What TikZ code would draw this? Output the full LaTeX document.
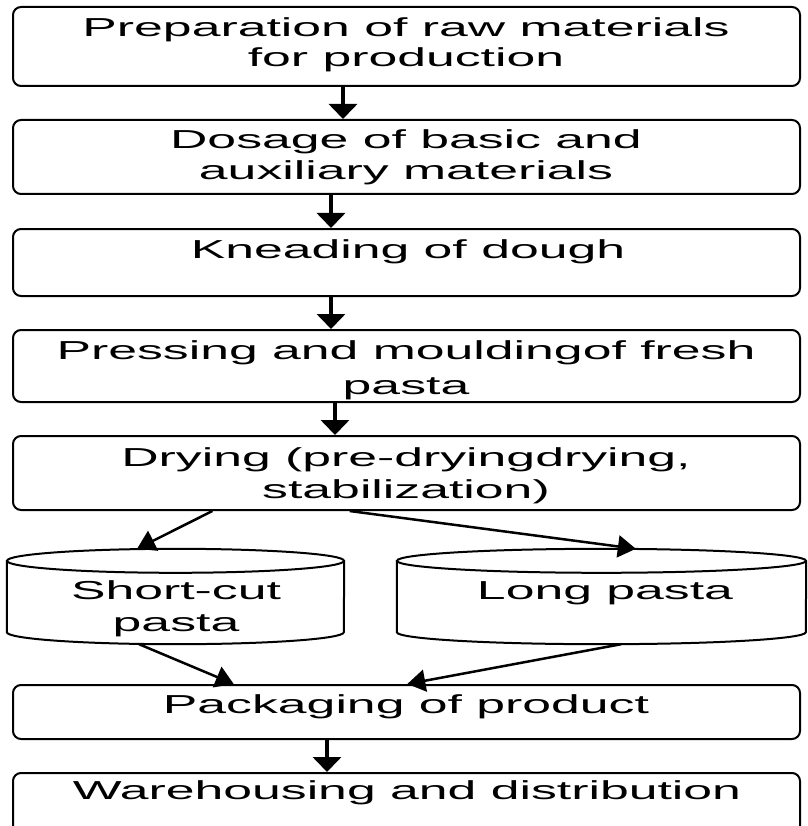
\documentclass[tikz,border=0pt]{standalone}
\usepackage{fontspec}
\setmainfont{Liberation Sans}[FakeStretch=1.99]
\usetikzlibrary{arrows.meta,calc}
\begin{document}
\begin{tikzpicture}[x=1pt,y=-1pt,
  box/.style={draw=black,line width=2pt,rounded corners=8pt,minimum width=787pt,inner sep=0pt},
  txt/.style={font=\fontsize{26}{31}\selectfont,inner sep=0pt,text height=18.6pt,text depth=0pt},
  cylarea/.style={inner sep=0pt},
  cylline/.style={draw=black,line width=2pt},
  arr/.style={line width=3.5pt,-{Triangle[width=28pt,length=15pt]}},
  darr/.style={line width=2.5pt,-{Triangle[width=22pt,length=18pt]}}]
\useasboundingbox (0,0) rectangle (807,826);
\clip (0,0) rectangle (807,826);

% boxes
\node[box,minimum height=79pt] (b1) at (406.5,46.5) {};
\node[box,minimum height=74pt] (b2) at (406.5,157) {};
\node[box,minimum height=67pt] (b3) at (406.5,262.5) {};
\node[box,minimum height=72pt] (b4) at (406.5,366) {};
\node[box,minimum height=74pt] (b5) at (406.5,473) {};
\node[box,minimum height=54pt] (b7) at (406.5,712) {};
\node[box,minimum height=67pt] (b8) at (406.5,806.5) {};

% texts
\node[txt] (t1a) at (406,27) {Preparation of raw materials};
\node[txt] (t1b) at (406,57) {for production};
\node[txt] (t2a) at (406,139) {Dosage of basic and};
\node[txt] (t2b) at (406,170) {auxiliary materials};
\node[txt] (t3) at (408,249) {Kneading of dough};
\node[txt] (t4a) at (406,350) {Pressing and mouldingof fresh};
\node[txt] (t4b) at (406,385) {pasta};
\node[txt] (t5a) at (406,457) {Drying (pre-dryingdrying,};
\node[txt] (t5b) at (406,489) {stabilization)};
\node[txt] (t7) at (406,704) {Packaging of product};
\node[txt] (t8) at (407,790) {Warehousing and distribution};

% cylinders
\node[cylarea,minimum width=337pt,minimum height=95pt] (c1) at (175.5,596.5) {};
\node[cylarea,minimum width=409pt,minimum height=95pt] (c2) at (601.5,596.5) {};
\draw[cylline] ([yshift=-12pt]c1.north west) -- ([yshift=12pt]c1.south west)
  arc[start angle=180,end angle=360,x radius=168.5pt,y radius=12pt]
  -- ([yshift=-12pt]c1.north east);
\draw[cylline] ([yshift=-12pt]c1.north) ellipse[x radius=168.5pt,y radius=12pt];
\draw[cylline] ([yshift=-12pt]c2.north west) -- ([yshift=12pt]c2.south west)
  arc[start angle=180,end angle=360,x radius=204.5pt,y radius=12pt]
  -- ([yshift=-12pt]c2.north east);
\draw[cylline] ([yshift=-12pt]c2.north) ellipse[x radius=204.5pt,y radius=12pt];
\node[txt] (tc1a) at (176,590) {Short-cut};
\node[txt] (tc1b) at (176,622) {pasta};
\node[txt] (tc2) at (605,590) {Long pasta};

% vertical arrows
\draw[arr] ([xshift=-63.5pt]b1.south) -- ([xshift=-63.5pt]b2.north);
\draw[arr] ([xshift=-75.5pt]b2.south) -- ([xshift=-75.5pt]b3.north);
\draw[arr] ([xshift=-75.5pt]b3.south) -- ([xshift=-75.5pt]b4.north);
\draw[arr] ([xshift=-71.5pt]b4.south) -- ([xshift=-71.5pt]b5.north);
\draw[arr] ([xshift=-79.5pt]b7.south) -- ([xshift=-79.5pt]b8.north);

% diagonal arrows
\draw[darr] ($(b5.south west)!0.254!(b5.south east)$) -- ($(c1.north west)!0.386!(c1.north east)$);
\draw[darr] ($(b5.south west)!0.428!(b5.south east)$) -- ($(c2.north west)!0.584!(c2.north east)$);
\draw[darr] ($(c1.south west)!0.392!(c1.south east)$) -- ($(b7.north west)!0.281!(b7.north east)$);
\draw[darr] ($(c2.south west)!0.548!(c2.south east)$) -- ($(b7.north west)!0.501!(b7.north east)$);
\end{tikzpicture}
\end{document}
